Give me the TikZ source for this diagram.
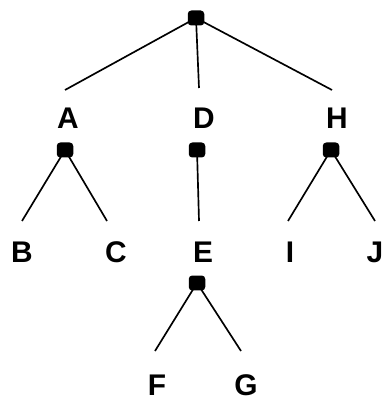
\documentclass[tikz,border=0pt]{standalone}
\usepackage{fontspec}
\setsansfont{Liberation Sans}

\begin{document}
\begin{tikzpicture}[x=0.02cm,y=-0.02cm,
    dot/.style={fill=black, rounded corners=2pt, inner sep=0pt, minimum width=0.33cm, minimum height=0.3cm},
    lbl/.style={font=\fontsize{17}{20}\selectfont\sffamily\bfseries, inner sep=0pt},
    edge/.style={line width=0.95pt}]
          \useasboundingbox (0,0) rectangle (384,401);

          % labels
          \node[lbl] (A) at (68,118) {A};
          \node[lbl] (D) at (204,118) {D};
          \node[lbl] (H) at (337,118) {H};
          \node[lbl] (B) at (22,252) {B};
          \node[lbl] (C) at (116,252) {C};
          \node[lbl] (E) at (203,252) {E};
          \node[lbl] (I) at (290,252) {I};
          \node[lbl] (J) at (375,252) {J};
          \node[lbl] (F) at (157,385) {F};
          \node[lbl] (G) at (246,385) {G};

          % free ends of the branches
          \coordinate (a end) at (65,90);
          \coordinate (d end) at (199,88);
          \coordinate (h end) at (332,90);
          \coordinate (b end) at (22,221);
          \coordinate (c end) at (107,221);
          \coordinate (e end) at (199,221);
          \coordinate (i end) at (288,221);
          \coordinate (j end) at (375,221);
          \coordinate (f end) at (155,351);
          \coordinate (g end) at (241,351);

          % branches
          \draw[edge] (196,18) coordinate (r) -- (a end);
          \draw[edge] (r) -- (d end);
          \draw[edge] (r) -- (h end);
          \draw[edge] (65,150) coordinate (a) -- (b end);
          \draw[edge] (a) -- (c end);
          \draw[edge] (197,150) coordinate (d) -- (e end);
          \draw[edge] (331,150) coordinate (h) -- (i end);
          \draw[edge] (h) -- (j end);
          \draw[edge] (197,283) coordinate (e) -- (f end);
          \draw[edge] (e) -- (g end);

          % dots
          \node[dot] (root) at (r) {};
          \node[dot] (adot) at (a) {};
          \node[dot] (ddot) at (d) {};
          \node[dot] (hdot) at (h) {};
          \node[dot] (edot) at (e) {};
    \end{tikzpicture}
\end{document}
